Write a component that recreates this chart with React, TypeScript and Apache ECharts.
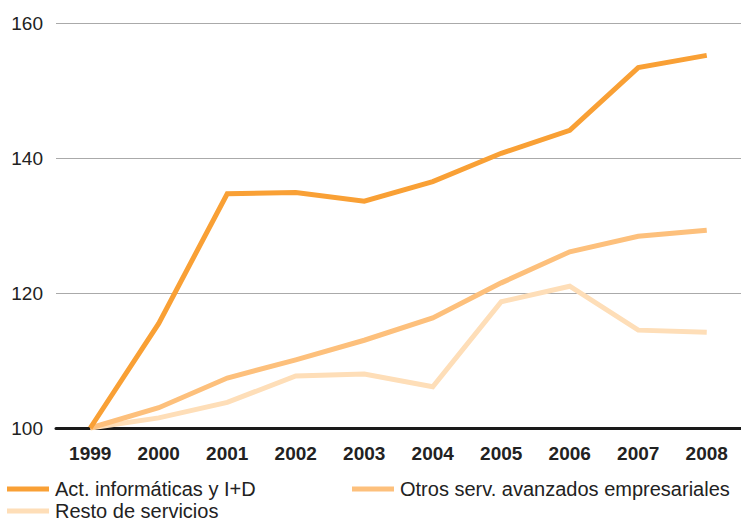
import React, { useEffect, useRef } from "react";
import * as echarts from "echarts";

const years = ["1999", "2000", "2001", "2002", "2003", "2004", "2005", "2006", "2007", "2008"];
const seriesNames = ["Act. informáticas y I+D", "Otros serv. avanzados empresariales", "Resto de servicios"];
const actInformaticas = [100, 115.5, 134.7, 134.9, 133.6, 136.5, 140.7, 144.1, 153.4, 155.2];
const otrosServ = [100, 103.0, 107.4, 110.1, 113.0, 116.3, 121.5, 126.1, 128.4, 129.3];
const restoServicios = [100, 101.5, 103.8, 107.7, 108.0, 106.1, 118.7, 121.0, 114.5, 114.2];
const colors = ["#F9A035", "#FDC07C", "#FEDEB8"];

const FONT = "'Liberation Sans', Arial, Helvetica, sans-serif";

export default function App() {
  const ref = useRef<HTMLDivElement>(null);
  useEffect(() => {
    if (!ref.current) return;
    const chart = echarts.init(ref.current, undefined, { renderer: "svg" });
    const legendCommon = {
      icon: "rect",
      itemWidth: 42,
      itemHeight: 5,
      itemGap: 6,
      padding: 0,
      selectedMode: false,
      textStyle: { fontSize: 20, lineHeight: 20, color: "#222", fontFamily: FONT, padding: [0, 0, 0, 1] },
    };
    const dataArrays = [actInformaticas, otrosServ, restoServicios];
    chart.setOption({
      animation: false,
      textStyle: { fontFamily: FONT },
      color: colors,
      grid: { left: 56, right: -9, top: 23, bottom: 94, containLabel: false },
      legend: [
        { ...legendCommon, data: [seriesNames[0]], left: 7, top: 479 },
        { ...legendCommon, data: [seriesNames[1]], left: 352, top: 479 },
        { ...legendCommon, data: [seriesNames[2]], left: 7, top: 501 },
      ],
      xAxis: {
        type: "category",
        data: years,
        boundaryGap: true,
        axisLine: { show: true, lineStyle: { color: "#1a1a1a", width: 3 } },
        axisTick: { show: false },
        axisLabel: { fontSize: 19, fontWeight: "bold", color: "#222", margin: 16, fontFamily: FONT },
        splitLine: { show: false },
      },
      yAxis: {
        type: "value",
        min: 100,
        max: 160,
        interval: 20,
        axisLine: { show: false },
        axisTick: { show: false },
        axisLabel: { fontSize: 19, color: "#222", margin: 13, fontFamily: FONT },
        splitLine: { show: true, lineStyle: { color: "#aaaaaa", width: 1.2 } },
      },
      series: seriesNames.map((name, i) => ({
        name,
        type: "line",
        data: dataArrays[i],
        symbol: "none",
        lineStyle: { width: 5, color: colors[i], cap: "butt", join: "miter" },
        itemStyle: { color: colors[i] },
        z: 10 - i,
      })),
    });
    return () => chart.dispose();
  }, []);
  return (
    <div
      ref={ref}
      style={{ position: "fixed", left: 0, top: 0, width: 741, height: 522, background: "#fff" }}
    />
  );
}
